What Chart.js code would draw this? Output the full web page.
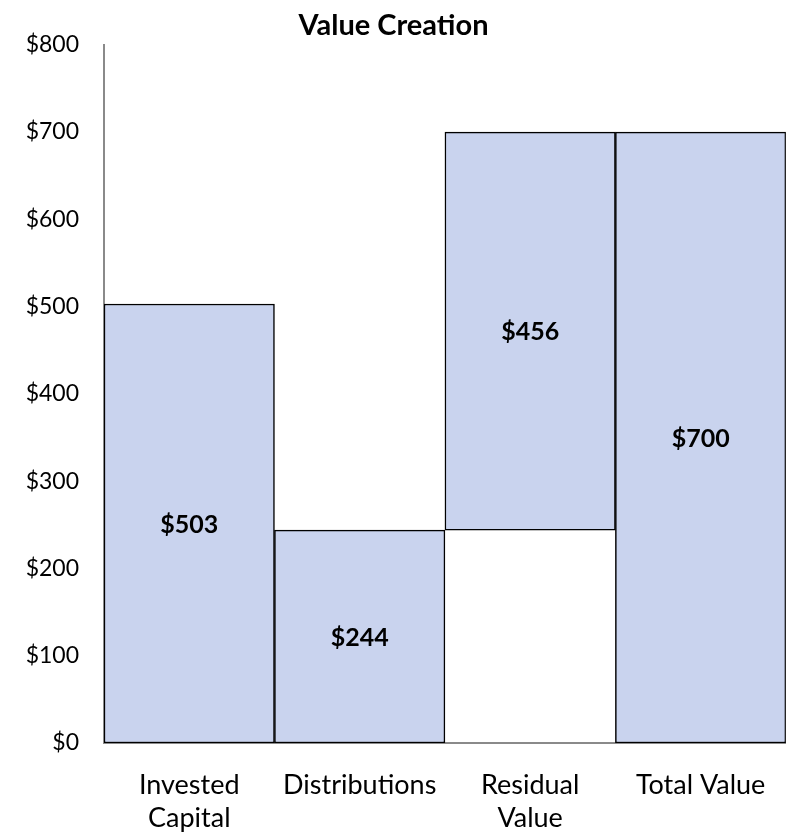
<!DOCTYPE html>
<html>
<head>
<meta charset="utf-8">
<script src="https://cdn.jsdelivr.net/npm/chart.js@4/dist/chart.umd.min.js"></script>
<style>
  html, body { margin: 0; padding: 0; background: #fff; }
  #wrap { width: 792px; height: 840px; }
</style>
</head>
<body>
<div id="wrap"><canvas id="valueChart" width="792" height="840"></canvas></div>
<script>
const categories = [['Invested', 'Capital'], 'Distributions', ['Residual', 'Value'], 'Total Value'];
const barBases = [0, 0, 244, 0];
const barTops = [503, 244, 700, 700];
const barLabels = ['$503', '$244', '$456', '$700'];
const yTicks = [0, 100, 200, 300, 400, 500, 600, 700, 800];

const FONT = 'Lato, "Open Sans", sans-serif';

// centre labels inside each bar
const barValueLabels = {
  id: 'barValueLabels',
  afterDatasetsDraw(chart) {
    const ctx = chart.ctx;
    const meta = chart.getDatasetMeta(0);
    ctx.save();
    ctx.font = 'bold 25px ' + FONT;
    ctx.fillStyle = '#000';
    ctx.textAlign = 'center';
    ctx.textBaseline = 'middle';
    meta.data.forEach((bar, i) => {
      const { x, y, base } = bar.getProps(['x', 'y', 'base'], true);
      ctx.fillText(barLabels[i], x, (y + base) / 2 + 1);
    });
    ctx.restore();
  }
};

new Chart(document.getElementById('valueChart'), {
  type: 'bar',
  data: {
    labels: categories,
    datasets: [{
      data: barBases.map((b, i) => [b, barTops[i]]),
      backgroundColor: '#c9d3ee',
      borderColor: '#000',
      borderWidth: 1.5,
      borderSkipped: false,
      barPercentage: 1,
      categoryPercentage: 1
    }]
  },
  options: {
    responsive: false,
    animation: false,
    layout: { padding: { left: 0, right: 5, top: 0, bottom: 0 } },
    plugins: {
      legend: { display: false },
      tooltip: { enabled: false },
      title: {
        display: true,
        text: 'Value Creation',
        color: '#000',
        font: { family: FONT, size: 29, weight: 'bold', lineHeight: 1.2 },
        padding: { top: 8, bottom: 2 }
      }
    },
    scales: {
      x: {
        grid: { display: false, drawTicks: false },
        border: { display: true, color: '#8a8a8a', width: 2 },
        ticks: { color: '#000', padding: 26, maxRotation: 0, font: { family: FONT, size: 27, lineHeight: 1.22 } },
        afterFit(scale) { scale.height = 97; }
      },
      y: {
        min: 0, max: 800,
        grid: { display: false, drawTicks: false },
        border: { display: true, color: '#8a8a8a', width: 2 },
        afterBuildTicks(scale) { scale.ticks = yTicks.map(v => ({ value: v })); },
        ticks: {
          color: '#000', padding: 25,
          font: { family: FONT, size: 23 },
          callback: v => '$' + v
        },
        afterFit(scale) { scale.width = 104; }
      }
    }
  },
  plugins: [barValueLabels]
});
</script>
</body>
</html>
